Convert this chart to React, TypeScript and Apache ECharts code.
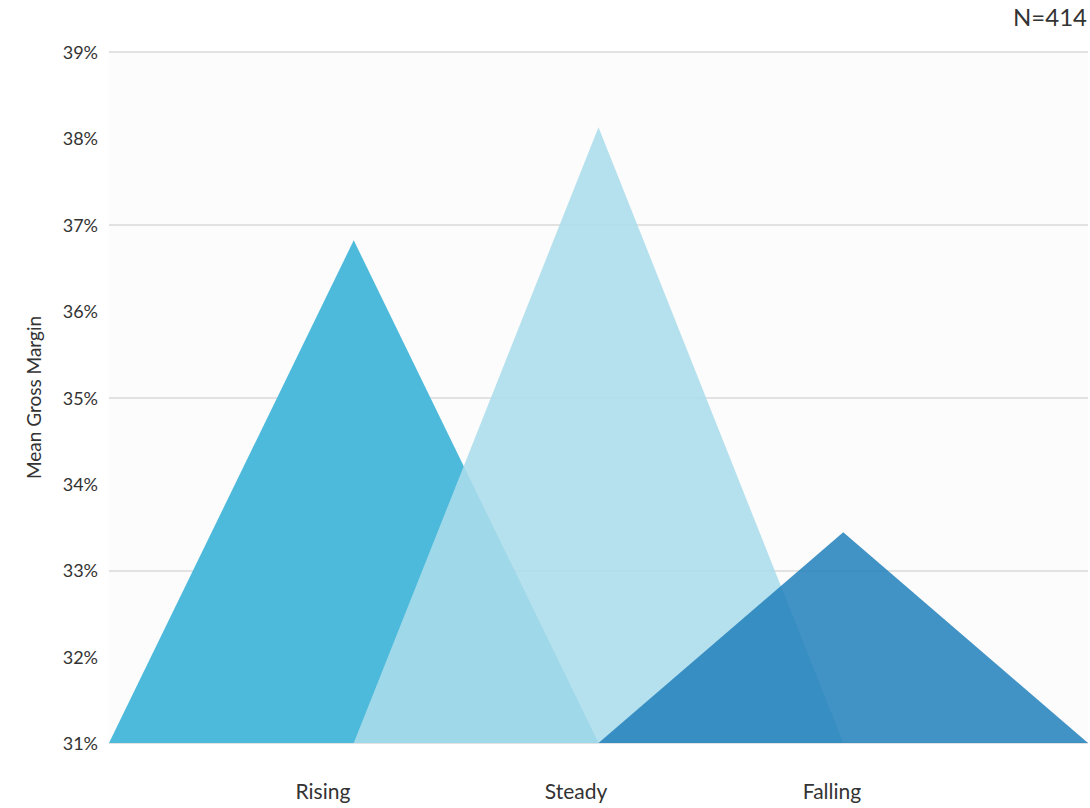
import React, { useEffect, useRef } from "react";
import * as echarts from "echarts";

// Trend groups and the mean gross margin (%) at each peak
const categories = ["Rising", "Steady", "Falling"];
const peakValues = [36.82, 38.13, 33.44];
// Each triangle spans two units on the hidden x scale: [start, peak, end]
const spans = [
  [0, 1, 2],
  [1, 2, 3],
  [2, 3, 4],
];
// Where the group names sit along the x scale
const labelPositions = [0.874, 1.908, 2.954];
const yTicks = [31, 32, 33, 34, 35, 36, 37, 38, 39];
const sampleSize = "N=414";

const colors = ["#4dbadb", "rgba(171,220,234,0.88)", "rgba(34,128,188,0.86)"];
const baseValue = yTicks[0];
const FONT = "Lato, 'Open Sans', sans-serif";

export default function App() {
  const ref = useRef<HTMLDivElement>(null);

  useEffect(() => {
    if (!ref.current) return;
    const chart = echarts.init(ref.current, undefined, { renderer: "svg" });

    const series = categories.map((name, i) => ({
      name,
      type: "line",
      xAxisIndex: 0,
      yAxisIndex: 0,
      data: [
        [spans[i][0], baseValue],
        [spans[i][1], peakValues[i]],
        [spans[i][2], baseValue],
      ],
      symbol: "none",
      lineStyle: { width: 0 },
      areaStyle: { color: colors[i], opacity: 1, origin: "start" },
      silent: true,
    }));

    chart.setOption({
      animation: false,
      backgroundColor: "#ffffff",
      textStyle: { fontFamily: FONT },
      grid: {
        left: 109,
        right: 2,
        top: 52,
        bottom: 65,
        show: true,
        backgroundColor: "#fcfcfc",
        borderWidth: 0,
      },
      xAxis: {
        type: "value",
        min: 0,
        max: 4,
        axisLine: { show: false },
        axisTick: { show: false },
        splitLine: { show: false },
        axisLabel: {
          customValues: labelPositions,
          formatter: (v: number) => {
            const idx = labelPositions.findIndex((p) => Math.abs(p - v) < 1e-6);
            return idx >= 0 ? categories[idx] : "";
          },
          margin: 37,
          fontSize: 21,
          color: "#333333",
          fontFamily: FONT,
        },
      },
      yAxis: [
        {
          type: "value",
          min: yTicks[0],
          max: yTicks[yTicks.length - 1],
          interval: 1,
          name: "Mean Gross Margin",
          nameLocation: "middle",
          nameGap: 66,
          nameTextStyle: { fontSize: 19, color: "#333333", fontFamily: FONT },
          axisLine: { show: false },
          axisTick: { show: false },
          splitLine: { show: false },
          axisLabel: {
            formatter: (v: number) => `${v}%`,
            fontSize: 18,
            color: "#333333",
            margin: 11,
            fontFamily: FONT,
          },
        },
        {
          // offset scale used only for the every-other-percent grid lines
          type: "value",
          min: 0,
          max: yTicks[yTicks.length - 1] - yTicks[0],
          interval: 2,
          position: "left",
          axisLine: { show: false },
          axisTick: { show: false },
          axisLabel: { show: false },
          splitLine: { show: true, lineStyle: { color: "#e2e2e2", width: 2 } },
        },
      ],
      graphic: [
        {
          type: "text",
          right: 3,
          top: 4,
          style: {
            text: sampleSize,
            fontSize: 24,
            fill: "#333333",
            fontFamily: FONT,
          },
        },
      ],
      series,
    });

    return () => chart.dispose();
  }, []);

  return (
    <div
      ref={ref}
      style={{ position: "fixed", left: 0, top: 0, width: 1090, height: 808 }}
    />
  );
}
